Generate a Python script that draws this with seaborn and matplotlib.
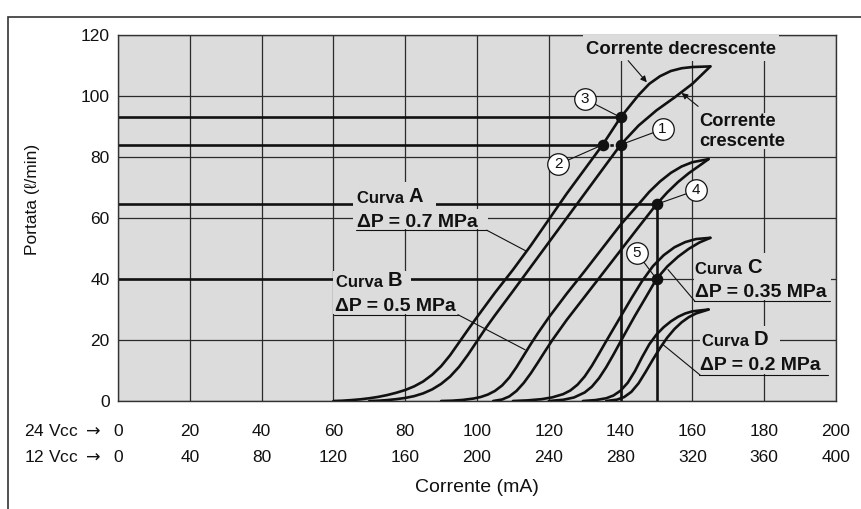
import matplotlib
matplotlib.use("Agg")
import matplotlib.pyplot as plt
from matplotlib.patches import Rectangle
import seaborn as sns
import pandas as pd

# ---------------------------------------------------------------- data
# Current at 24 V DC (mA) and flow (l/min) along each hysteresis branch.
# "dec" = decreasing current, "inc" = increasing current.
a_dec_x = [60, 62.5, 65, 67.5, 70, 72.5, 75, 77.5, 80, 82.5, 85, 87.5, 90, 92.5, 95, 97.5, 100,
           105, 110, 115, 120, 125, 130, 135, 140, 145, 148, 151, 154, 157, 160, 165]
a_dec_y = [0, 0.1, 0.3, 0.55, 0.9, 1.35, 1.95, 2.7, 3.6, 4.8, 6.4, 8.6, 11.4, 15.0, 19.2, 23.4, 27.5,
           35.5, 43, 51, 59.5, 68, 76, 84, 93, 100.3, 104, 106.5, 108.2, 109.1, 109.5, 109.7]
a_inc_x = [70, 72.5, 75, 77.5, 80, 82.5, 85, 87.5, 90, 92.5, 95, 97.5, 100, 102.5, 105,
           110, 115, 120, 125, 130, 135, 140, 145, 150, 155, 160, 165]
a_inc_y = [0, 0.1, 0.3, 0.6, 1.0, 1.6, 2.5, 3.8, 5.6, 8.0, 11.2, 15.2, 19.6, 24.0, 28.1,
           36, 44, 52, 60, 68, 76, 84, 90.3, 95.3, 99.5, 104, 109.7]

b_dec_x = [90, 93, 96, 99, 101, 103, 105, 107, 109, 111, 113, 115, 117, 120, 125, 130, 135, 140,
           145, 148, 151, 154, 157, 160, 164.5]
b_dec_y = [0, 0.1, 0.35, 0.8, 1.3, 2.1, 3.3, 5.1, 7.7, 11.1, 14.9, 18.7, 22.3, 27.4, 35.2, 42.6,
           50.2, 57.8, 64.5, 68.6, 72, 74.8, 76.9, 78.3, 79.3]
b_inc_x = [104.5, 107, 109, 111, 113, 115, 117, 119, 121, 125, 130, 135, 140, 145, 150,
           153, 156, 159, 162, 164.5]
b_inc_y = [0, 0.5, 1.5, 3.3, 5.9, 9.1, 12.7, 16.4, 20.0, 26.6, 34.2, 41.8, 49.4, 57.0, 64.5,
           68.4, 71.8, 74.7, 77.2, 79.3]

c_dec_x = [110, 114, 118, 121, 124, 126, 128, 130, 132, 134, 136, 140, 143, 146, 149, 152, 155,
           158, 161, 165]
c_dec_y = [0, 0.2, 0.6, 1.2, 2.25, 3.45, 5.35, 8.05, 11.55, 15.55, 19.65, 27.65, 33.65, 39.35,
           44.2, 47.8, 50.4, 52.1, 53.1, 53.5]
c_inc_x = [120, 124, 127, 130, 132, 134, 136, 138, 141, 144, 147, 150, 153, 156, 159, 162, 165]
c_inc_y = [0, 0.4, 1.15, 2.8, 4.7, 7.5, 11.1, 15.2, 21.65, 27.95, 33.95, 40, 44.1, 47.3, 49.9,
           52.0, 53.5]

d_dec_x = [129.5, 133, 136, 138, 140, 142, 144, 146, 148, 150, 152, 154, 156, 158, 160, 164.5]
d_dec_y = [0, 0.3, 0.9, 1.8, 3.4, 6.0, 9.8, 14.4, 18.6, 21.8, 24.2, 26.1, 27.6, 28.7, 29.4, 30]
d_inc_x = [136, 139, 141, 143, 145, 147, 149, 151, 153, 155, 157, 159, 161, 164.5]
d_inc_y = [0, 0.45, 1.3, 3.0, 5.8, 9.6, 13.6, 17.4, 20.8, 23.6, 25.8, 27.5, 28.7, 30.0]

# operating points (current mA, flow l/min) and their reference numbers
pt_labels = ["1", "2", "3", "4", "5"]
pt_current = [140, 135, 140, 150, 150]
pt_flow = [84, 84, 93, 64.5, 40]

# tick labels for the two supply voltages
ticks_24v = [0, 20, 40, 60, 80, 100, 120, 140, 160, 180, 200]
ticks_12v = [0, 40, 80, 120, 160, 200, 240, 280, 320, 360, 400]
ticks_flow = [0, 20, 40, 60, 80, 100, 120]

branches = {
    "A dec": (a_dec_x, a_dec_y), "A inc": (a_inc_x, a_inc_y),
    "B dec": (b_dec_x, b_dec_y), "B inc": (b_inc_x, b_inc_y),
    "C dec": (c_dec_x, c_dec_y), "C inc": (c_inc_x, c_inc_y),
    "D dec": (d_dec_x, d_dec_y), "D inc": (d_inc_x, d_inc_y),
}
rows = []
for name, (xs, ys) in branches.items():
    for i, (x, y) in enumerate(zip(xs, ys)):
        rows.append({"ramo": name, "ordine": i, "corrente": x, "portata": y})
curves = pd.DataFrame(rows)
points = pd.DataFrame({"n": pt_labels, "corrente": pt_current, "portata": pt_flow})

# ---------------------------------------------------------------- style
sns.set_theme(style="white")
plt.rcParams["font.family"] = ["Liberation Sans", "DejaVu Sans"]

BG = "#dcdcdc"
INK = "#111111"
GRID = "#2a2a2a"
LW = 1.9

fig = plt.figure(figsize=(8.61, 5.09), dpi=100)
ax = fig.add_axes([118 / 861, 108 / 509, 718 / 861, 366 / 509])
ax.set_facecolor(BG)

# ---------------------------------------------------------------- curves
sns.lineplot(data=curves, x="corrente", y="portata", units="ramo", estimator=None,
             sort=False, color=INK, linewidth=LW, legend=False, ax=ax, zorder=5)
sns.scatterplot(data=points, x="corrente", y="portata", color=INK, s=70,
                edgecolor=INK, linewidth=0, legend=False, ax=ax, zorder=7)

ax.set_xlim(0, 200)
ax.set_ylim(0, 120)
ax.set_xticks(ticks_24v)
ax.set_xticklabels([str(t) for t in ticks_24v])
ax.set_yticks(ticks_flow)
ax.set_yticklabels([str(t) for t in ticks_flow])
ax.grid(True, color=GRID, lw=0.9)
ax.set_axisbelow(True)
for sp in ax.spines.values():
    sp.set_color("#333333")
    sp.set_linewidth(1.0)
ax.tick_params(axis="both", length=0, labelsize=12.5, colors=INK)
ax.tick_params(axis="x", pad=16.5)
ax.tick_params(axis="y", pad=6)

# second row of current values (12 V DC supply)
sec = ax.secondary_xaxis(-26 / 366, functions=(lambda v: v * 2, lambda v: v / 2))
sec.set_xticks(ticks_12v)
sec.set_xticklabels([str(t) for t in ticks_12v])
sec.tick_params(length=0, pad=16.5, labelsize=12.5, colors=INK)
sec.spines["bottom"].set_visible(False)

ax.annotate("24 Vcc $\\rightarrow$", xy=(0, 0.5), xycoords=ax.get_xticklabels()[0],
            xytext=(-9, 0), textcoords="offset points", ha="right", va="center",
            fontsize=12.5, color=INK)
ax.annotate("12 Vcc $\\rightarrow$", xy=(0, 0.5), xycoords=sec.get_xticklabels()[0],
            xytext=(-9, 0), textcoords="offset points", ha="right", va="center",
            fontsize=12.5, color=INK)

ax.set_xlabel("Corrente (mA)", fontsize=14, color=INK)
ax.set_ylabel("Portata (\u2113/min)", fontsize=12.5, color=INK)
ax.xaxis.set_label_coords(0.5, -0.212)
ax.yaxis.set_label_coords(-0.108, 0.55)

# ---------------------------------------------------------------- operating lines
p = dict(zip(pt_labels, zip(pt_current, pt_flow)))
ax.plot([0, p["3"][0]], [p["3"][1]] * 2, color=INK, lw=LW, zorder=2)
ax.plot([0, p["2"][0]], [p["2"][1]] * 2, color=INK, lw=LW, zorder=2)
ax.plot([p["2"][0], p["1"][0]], [p["1"][1]] * 2, color=INK, lw=LW, ls=(0, (1.3, 1.3)), zorder=2)
ax.plot([0, p["4"][0]], [p["4"][1]] * 2, color=INK, lw=LW, zorder=2)
ax.plot([0, p["5"][0]], [p["5"][1]] * 2, color=INK, lw=LW, zorder=2)
ax.plot([p["3"][0]] * 2, [0, p["3"][1]], color=INK, lw=LW, zorder=2)
ax.plot([p["4"][0]] * 2, [0, p["4"][1]], color=INK, lw=LW, zorder=2)

# ---------------------------------------------------------------- label backgrounds
blocks = [
    (65.5, 62.8, 23.1, 8.9), (65.5, 56.3, 37.5, 6.5),      # curve A label
    (59.8, 36.3, 21.8, 6.2), (59.8, 28.5, 35.7, 7.8),      # curve B label
    (160.5, 33.0, 38.0, 15.5),                             # curve C label
    (162.0, 15.5, 22.4, 9.0), (162.0, 8.7, 36.0, 6.8),     # curve D label
    (129.5, 111.6, 54.5, 8.4),                             # decreasing current note
    (161.5, 82.6, 26.0, 11.7),                             # increasing current note
]
for x0, y0, w, h in blocks:
    ax.add_patch(Rectangle((x0, y0), w, h, facecolor=BG, edgecolor="none", zorder=3))

# ---------------------------------------------------------------- curve labels
bold = dict(fontweight="bold", color=INK, zorder=6)


def curve_label(x, y_name, letter, x_dp, y_dp, dp_text, ul_y, ul_x1, leader_from, leader_to):
    t = ax.text(x, y_name, "Curva ", fontsize=12, ha="left", va="baseline", **bold)
    ax.annotate(letter, xy=(1, 0), xycoords=t, ha="left", va="bottom", fontsize=14.5, **bold)
    ax.text(x_dp, y_dp, dp_text, fontsize=14, ha="left", va="baseline", **bold)
    ax.plot([x_dp - 0.3, ul_x1], [ul_y, ul_y], color=INK, lw=0.8, zorder=6)
    ax.plot([leader_from[0], leader_to[0]], [leader_from[1], leader_to[1]],
            color=INK, lw=0.8, zorder=6)


curve_label(66.5, 64.8, "A", 66.5, 57.0, "\u0394P = 0.7 MPa", 56.0, 102.7, (102.7, 56.0), (113.8, 49.1))
curve_label(60.6, 37.4, "B", 60.4, 29.6, "\u0394P = 0.5 MPa", 28.3, 94.7, (94.7, 28.3), (113.4, 16.8))
curve_label(160.8, 41.7, "C", 160.8, 34.0, "\u0394P = 0.35 MPa", 32.7, 198.3, (160.7, 32.7), (153.2, 43.1))
curve_label(162.8, 17.9, "D", 162.2, 10.0, "\u0394P = 0.2 MPa", 8.55, 197.8, (162.1, 8.55), (151.9, 18.4))

ax.text(156.8, 115.2, "Corrente decrescente", fontsize=13.3, ha="center", va="center", **bold)
ax.text(162.0, 88.3, "Corrente\ncrescente", fontsize=13.2, ha="left", va="center",
        linespacing=1.2, **bold)
arrow = dict(arrowstyle="-|>", lw=0.8, color=INK, mutation_scale=9, shrinkA=0, shrinkB=0)
ax.annotate("", xy=(147.3, 104.5), xytext=(142.1, 111.6), arrowprops=arrow, zorder=6)
ax.annotate("", xy=(157.0, 101.0), xytext=(161.6, 96.6), arrowprops=arrow, zorder=6)

# ---------------------------------------------------------------- numbered markers
marker_pos = {"3": (130.1, 99.0), "1": (151.7, 89.1), "2": (122.7, 77.6),
              "4": (161.1, 69.1), "5": (144.5, 48.6)}
for n, (cx, cy) in marker_pos.items():
    px, py = p[n]
    ax.plot([cx, px], [cy, py], color=INK, lw=0.8, zorder=6)
    ax.scatter([cx], [cy], s=240, facecolor="white", edgecolor=INK, linewidth=0.9, zorder=8)
    ax.text(cx, cy, n, fontsize=11, ha="center", va="center", color=INK, zorder=9)

# outer frame of the figure panel
fig.add_artist(Rectangle((8 / 861, -0.05), 1.5, 492 / 509 + 0.05, transform=fig.transFigure,
                         fill=False, edgecolor="#333333", linewidth=1.2))

fig.savefig("out.png", dpi=100)
